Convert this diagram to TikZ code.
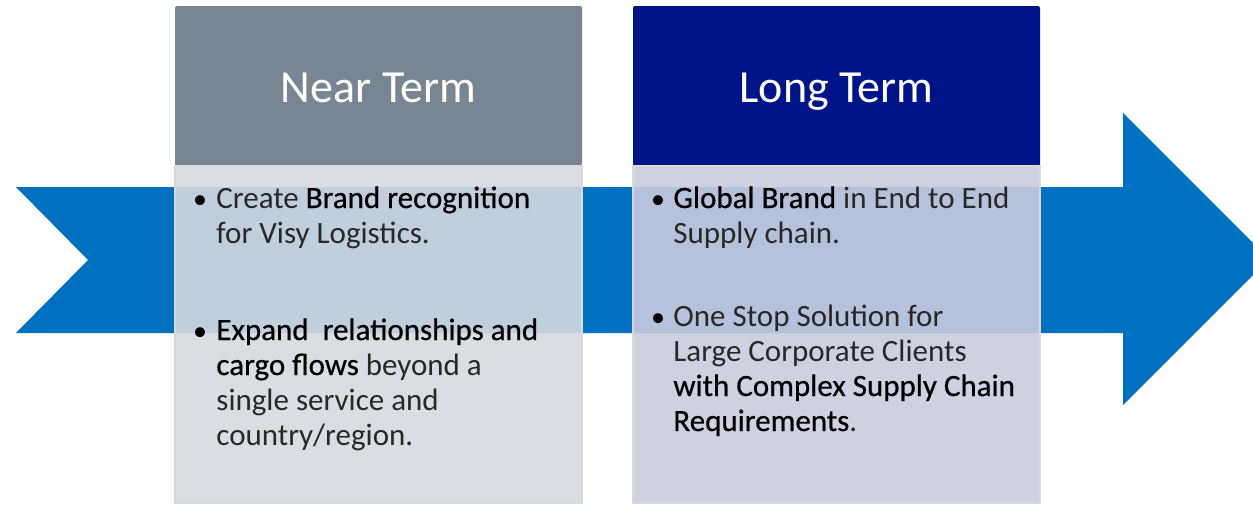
\documentclass[tikz,border=0pt]{standalone}
\usepackage{fontspec}
\setmainfont{Carlito}
\newfontfamily\strongfont[FakeBold=0.6]{Carlito}
\usepackage{xcolor}
\usetikzlibrary{positioning}
\definecolor{arrowblue}{RGB}{0,112,192}
\definecolor{neargray}{RGB}{120,133,146}
\definecolor{longnavy}{RGB}{0,20,137}
\definecolor{nearbody}{RGB}{214,217,222}
\definecolor{longbody}{RGB}{202,204,222}
\definecolor{lighttext}{RGB}{40,40,40}
\newcommand{\strongtxt}[1]{{\strongfont\color{black}#1}}

\begin{document}
\begin{tikzpicture}[x=0.5pt,y=-0.5pt,
    headbox/.style={anchor=north west,minimum width=203.5pt,minimum height=80pt,
        inner sep=0pt,outer sep=0pt,rounded corners=1pt,text=white,
        text height=21pt,text depth=5pt,font=\fontsize{23}{27}\selectfont},
    bodybox/.style={minimum width=203.5pt,minimum height=168.5pt,inner sep=0pt,
        outer sep=0pt,fill opacity=0.9,draw=gray!30,line width=0.8pt},
    itemtext/.style={anchor=base west,inner sep=0pt,text=lighttext,
        font=\fontsize{15.5}{17.5}\selectfont},
    dot/.style={anchor=base,inner sep=0pt,font=\fontsize{14}{17.5}\selectfont}]

    \useasboundingbox (0,0) rectangle (1253,504);
    \clip (0,0) rectangle (1253,504);

    % the big arrow behind the boxes
    \fill[arrowblue] (16,187) -- (1123,187) -- (1123,113) -- (1269,259)
        -- (1123,405) -- (1123,333) -- (16,333) -- (88,260) -- cycle;

    % near term
    \node[headbox,fill=neargray] (nearhead) at (175,6) {Near Term};
    \node[bodybox,fill=nearbody,below=0pt of nearhead] (nearbody) {};

    % long term
    \node[headbox,fill=longnavy] (longhead) at (633,6) {Long Term};
    \node[bodybox,fill=longbody,below=0pt of longhead] (longbody) {};

    % bullet points
    \node[dot] (nb1) at (200,208) {\textbullet};
    \node[itemtext] (nt1) at (216,208) {\begin{tabular}[t]{@{}l@{}}
        Create \strongtxt{Brand recognition}\\ for Visy Logistics.\end{tabular}};
    \node[dot] (nb2) at (200,340) {\textbullet};
    \node[itemtext] (nt2) at (216,340) {\begin{tabular}[t]{@{}l@{}}
        \strongtxt{Expand\ \ relationships and}\\ \strongtxt{cargo flows} beyond a\\
        single service and\\ country/region.\end{tabular}};

    \node[dot] (lb1) at (658,208) {\textbullet};
    \node[itemtext] (lt1) at (673,208) {\begin{tabular}[t]{@{}l@{}}
        \strongtxt{Global Brand} in End to End\\ Supply chain.\end{tabular}};
    \node[dot] (lb2) at (658,326) {\textbullet};
    \node[itemtext] (lt2) at (673,326) {\begin{tabular}[t]{@{}l@{}}
        One Stop Solution for\\ Large Corporate Clients\\
        \strongtxt{with Complex Supply Chain}\\ \strongtxt{Requirements}.\end{tabular}};
\end{tikzpicture}
\end{document}
